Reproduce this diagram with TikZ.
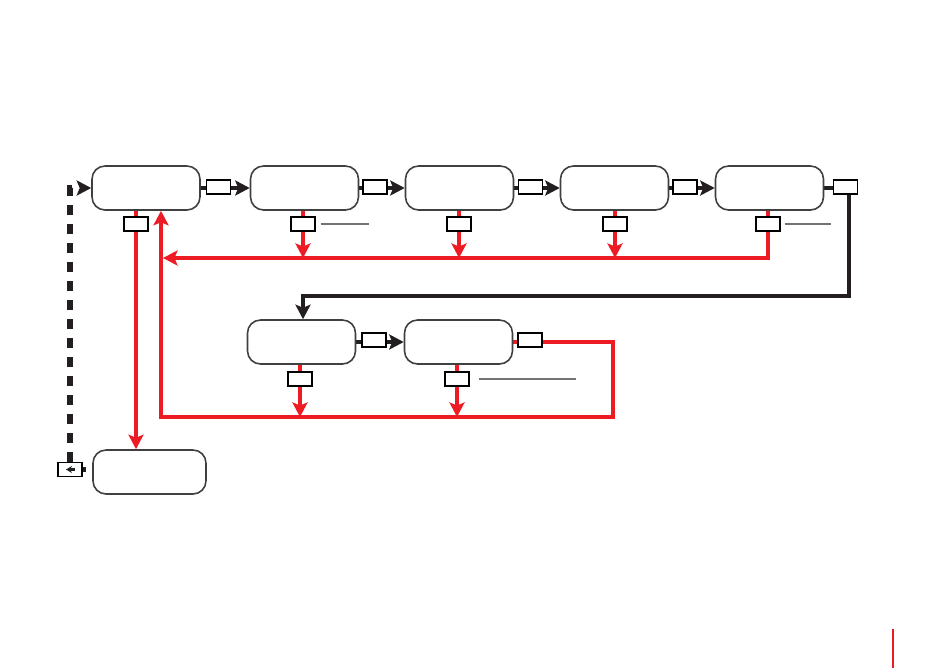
\documentclass[tikz,border=0pt]{standalone}
\usepackage{tikz}
\usetikzlibrary{calc, positioning, arrows.meta, backgrounds}
\definecolor{flowred}{RGB}{237,28,36}
\definecolor{flowblk}{RGB}{35,31,32}
\tikzstyle{stage}=[draw=black!75, line width=0.9pt, rounded corners=0.26cm, minimum width=2.16cm, minimum height=0.88cm, fill=white]
\tikzstyle{tag}=[draw=black, line width=0.6pt, minimum width=0.48cm, minimum height=0.28cm, inner sep=0pt, fill=white]
\tikzstyle{blk}=[draw=flowblk, line width=2.8pt]
\tikzstyle{rline}=[draw=flowred, line width=2.8pt]
\tikzstyle{dsh}=[draw=flowblk, line width=3pt, dash pattern=on 0.2cm off 0.18cm]
\tikzstyle{lead}=[draw=black!55, line width=0.6pt]
\tikzset{>={Stealth[length=0.29cm, width=0.3cm, inset=0.06cm]}}

\begin{document}
\begin{tikzpicture}[x=0.02cm, y=-0.02cm]
\useasboundingbox (0,0) rectangle (950,670);
% top row
\foreach \i/\x in {0/146,1/304.5,2/459.5,3/614.5,4/769.5}{
\node[stage] (S\i) at (\x,188) {};
}
\foreach \i/\x in {0/218.5,1/375,2/530.5,3/685,4/845.5}{
\node[tag] (T\i) at (\x,187) {};
}
\foreach \i/\x in {0/136,1/303,2/459,3/615,4/768}{
\node[tag] (D\i) at (\x,224) {};
}
% second row
\node[stage] (R0) at (301.5,342) {};
\node[stage] (R1) at (458.5,342) {};
\node[tag] (U0) at (374,340) {};
\node[tag] (U1) at (530,340) {};
\node[tag] (V0) at (300,379) {};
\node[tag] (V1) at (457,379) {};
% bottom
\node[stage, minimum width=2.26cm] (E0) at (149.5,472) {};
\node[tag] (W0) at (70,469.5) {};
\draw[flowblk, line width=1.2pt, -{Stealth[length=0.12cm, width=0.14cm]}] ([xshift=0.1cm]W0.center) -- ([xshift=-0.08cm]W0.center);

\coordinate (k0) at (849,296);
\coordinate (k1) at (303,296);
\coordinate (r0) at (768,258);
\coordinate (r1) at (163,258);
\coordinate (q0) at (161,417);
\coordinate (q1) at (613,417);

\begin{scope}[on background layer]
\foreach \i in {0,...,3}{
\pgfmathtruncatemacro{\j}{\i+1}
\draw[blk,->] (S\i) -- (S\j);
}
\foreach \i in {1,2,3}{
\draw[rline,->] (S\i.south -| D\i) -- (D\i |- r0);
}
\draw[rline,->] (S4.south -| D4) -- (r0) -- (r1);
\draw[rline,->] (S0.south -| D0) -- (E0.north -| D0);
\draw[rline,->] (R1.east) -- (R1.east -| q1) -- (q1) -- (q0) -- (S0.south -| q0);
\foreach \i in {0,1}{
\draw[rline,->] (R\i.south -| V\i) -- (V\i |- q0);
}
\draw[blk,->] (R0) -- (R1);
\draw[blk,->] (S4.east) -- (S4.east -| k0) -- (k0) -- (k1) -- (R0.north -| k1);
\draw[dsh, dash phase=0.14cm] (W0.east) -- (W0.east -| E0.west);
\draw[dsh,->] (W0.north) -- (W0.north |- S0.west) -- (S0.west);
\end{scope}

\draw[lead] ([xshift=0.1cm]D1.east) -- ++(48,0);
\draw[lead] ([xshift=0.08cm]D4.east) -- ++(46,0);
\draw[lead] ([xshift=0.18cm]V1.east) -- ++(97,0);
\draw[flowred, line width=1.5pt] (893,629) -- (893,668);
\end{tikzpicture}
\end{document}
